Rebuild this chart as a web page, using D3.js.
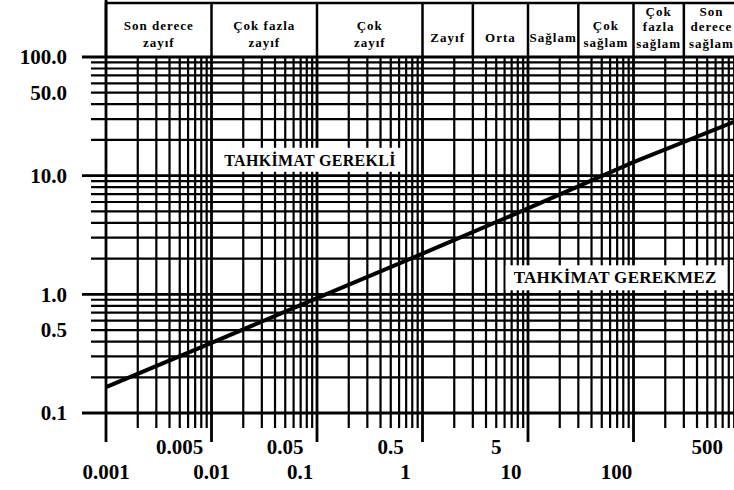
<!DOCTYPE html>
<html>
<head>
<meta charset="utf-8">
<script src="https://cdn.jsdelivr.net/npm/d3@7"></script>
<style>
  body { margin: 0; background: #fff; }
  svg { display: block; }
  text { font-family: "Liberation Serif", "DejaVu Serif", serif; font-weight: bold; fill: #000; }
</style>
</head>
<body>
<script>

// Q değerleri ve çizgi (açıklık/ESR)
const qValues = [0.001, 0.01, 0.1, 1, 10, 100, 1000];
const spanValues = [0.165, 0.39, 0.93, 2.2, 5.3, 13, 29.5];

// kaya kalitesi sınıfları
const classBounds = [0.001, 0.01, 0.1, 1, 3, 10, 30, 100, 300, 1000];
const classNames = [
    ["Son derece", "zayıf"],
    ["Çok fazla", "zayıf"],
    ["Çok", "zayıf"],
    ["Zayıf"],
    ["Orta"],
    ["Sağlam"],
    ["Çok", "sağlam"],
    ["Çok", "fazla", "sağlam"],
    ["Son", "derece", "sağlam"]
];

const xTicksTop = [0.005, 0.05, 0.5, 5, 500];
const xTicksBottom = [0.001, 0.01, 0.1, 1, 10, 100];
const xTicksBottomText = ["0.001", "0.01", "0.1", "1", "10", "100"];
const yTicks = [100, 50, 10, 1, 0.5, 0.1];
const yTickText = ["100.0", "50.0", "10.0", "1.0", "0.5", "0.1"];

const zoneLabels = [
    {text: "TAHKİMAT GEREKLİ", q: 0.086, s: 13.5, size: 16},
    {text: "TAHKİMAT GEREKMEZ", q: 67, s: 1.39, size: 17}
];

const W = 734, H = 490;

const x = d3.scaleLog().domain([0.001, 1000]).range([106, 739]);
const y = d3.scaleLog().domain([0.1, 100]).range([413, 57]);

const svg = d3.select("body").append("svg")
    .attr("width", W)
    .attr("height", H)
    .style("background", "#fff");

// ızgara değerleri (her dekad için 1..9)
const xGrid = [];
for (let e = -3; e < 3; e++) {
    for (let m = 1; m < 10; m++) xGrid.push({v: m * Math.pow(10, e), major: m === 1});
}
xGrid.push({v: 1000, major: true});

const yGrid = [];
for (let e = -1; e < 2; e++) {
    for (let m = 1; m < 10; m++) yGrid.push({v: m * Math.pow(10, e), major: m === 1});
}
yGrid.push({v: 100, major: true});

svg.selectAll("line.h")
    .data(yGrid)
    .enter()
    .append("line")
        .attr("class", "h")
        .attr("x1", d => d.major ? 82 : 91)
        .attr("x2", W)
        .attr("y1", d => y(d.v))
        .attr("y2", d => y(d.v))
        .attr("stroke", "#000")
        .attr("stroke-width", d => d.major ? 2.8 : 2.2);

svg.selectAll("line.v")
    .data(xGrid)
    .enter()
    .append("line")
        .attr("class", "v")
        .attr("x1", d => x(d.v))
        .attr("x2", d => x(d.v))
        .attr("y1", d => d.v === 0.001 ? 0 : y(100))
        .attr("y2", d => d.major ? 442 : 428)
        .attr("stroke", "#000")
        .attr("stroke-width", d => d.major ? 2.8 : 2.2);

// üst başlık kutuları
svg.append("line")
    .attr("x1", x(0.001)).attr("x2", W)
    .attr("y1", 3).attr("y2", 3)
    .attr("stroke", "#000").attr("stroke-width", 2.5);

svg.selectAll("line.div")
    .data(classBounds)
    .enter()
    .append("line")
        .attr("class", "div")
        .attr("x1", d => x(d))
        .attr("x2", d => x(d))
        .attr("y1", 3)
        .attr("y2", y(100))
        .attr("stroke", "#000")
        .attr("stroke-width", 2.5);

const lineY = {1: [42], 2: [30, 47], 3: [16, 31, 48]};

classNames.forEach((lines, i) => {
    const cx = (x(classBounds[i]) + x(classBounds[i + 1])) / 2;
    lines.forEach((t, j) => {
        svg.append("text")
            .attr("x", cx)
            .attr("y", lineY[lines.length][j])
            .attr("text-anchor", "middle")
            .style("font-size", "13px")
            .style("letter-spacing", "1px")
            .text(t);
    });
});

// bölge etiketleri (beyaz zeminli)
zoneLabels.forEach(l => {
    const t = svg.append("text")
        .attr("x", x(l.q))
        .attr("y", y(l.s))
        .attr("dy", "0.35em")
        .attr("text-anchor", "middle")
        .style("font-size", l.size + "px")
        .style("letter-spacing", "0.3px")
        .text(l.text);
    const b = t.node().getBBox();
    svg.insert("rect", "text")
        .attr("x", b.x - 8)
        .attr("y", b.y - 3)
        .attr("width", b.width + 16)
        .attr("height", b.height + 6)
        .attr("fill", "#fff");
});

// çizgi
const line = d3.line()
    .x((d, i) => x(qValues[i]))
    .y(d => y(d));

svg.append("path")
    .datum(spanValues)
    .attr("d", line)
    .attr("fill", "none")
    .attr("stroke", "#000")
    .attr("stroke-width", 4);

// eksen etiketleri
svg.selectAll("text.yl")
    .data(yTicks)
    .enter()
    .append("text")
        .attr("class", "yl")
        .attr("x", 67)
        .attr("y", d => y(d))
        .attr("dy", "0.35em")
        .attr("text-anchor", "end")
        .style("font-size", "21px")
        .text((d, i) => yTickText[i]);

svg.selectAll("text.xt")
    .data(xTicksTop)
    .enter()
    .append("text")
        .attr("class", "xt")
        .attr("x", d => x(d))
        .attr("y", 454)
        .attr("text-anchor", "middle")
        .style("font-size", "21px")
        .text(d => d);

svg.selectAll("text.xb")
    .data(xTicksBottom)
    .enter()
    .append("text")
        .attr("class", "xb")
        .attr("x", d => x(d))
        .attr("dx", d => d >= 0.1 ? -17 : 0)
        .attr("y", 479)
        .attr("text-anchor", "middle")
        .style("font-size", "21px")
        .text((d, i) => xTicksBottomText[i]);

</script>
</body>
</html>
